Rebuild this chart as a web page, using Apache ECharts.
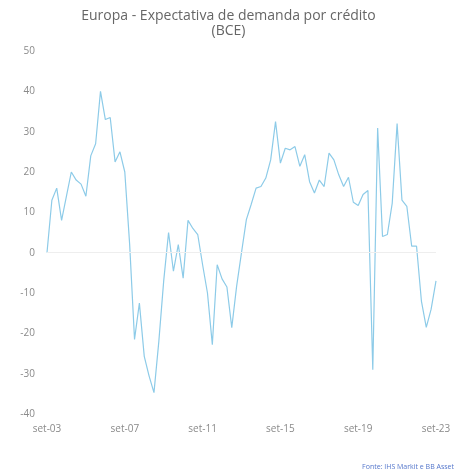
<!DOCTYPE html>
<html>
<head>
<meta charset="utf-8">
<script src="https://cdn.jsdelivr.net/npm/echarts@6/dist/echarts.min.js"></script>
<style>
html,body{margin:0;padding:0;background:#fff;}
#c{width:457px;height:474px;}
</style>
</head>
<body>
<div id="c"></div>
<script>
// Quarterly categories from set-03 to set-23
const monthNames = ["set", "dez", "mar", "jun"];
const startYear = 2003;
const nPoints = 81;
const categories = [];
for (let i = 0; i < nPoints; i++) {
  const m = monthNames[i % 4];
  const yy = (m === "set" || m === "dez") ? startYear + Math.floor(i / 4) : startYear + Math.floor((i + 2) / 4);
  categories.push(m + "-" + String(yy % 100).padStart(2, "0"));
}

const demandExpectation = [
  0, 13, 16, 8, 14, 20, 18, 17, 14, 24,
  27, 40, 33, 33.5, 22.5, 25, 20, 2, -21.5, -12.5,
  -25.7, -30.6, -34.7, -22, -7, 5, -4.6, 2, -6.3, 8,
  6, 4.5, -3, -10, -22.8, -3, -6.5, -8.5, -18.6, -8.3,
  0, 8.2, 12, 16, 16.4, 18.5, 23, 32.5, 22.2, 25.9,
  25.5, 26.3, 21.4, 24.3, 17.6, 14.8, 18, 16.4, 24.7, 23,
  19.3, 16.4, 18.7, 12.5, 11.7, 14.4, 15.4, -29, 30.9, 4,
  4.5, 12.3, 32, 13, 11.5, 1.6, 1.6, -12, -18.5, -14,
  -7
];

const yTicks = { min: -40, max: 50, interval: 10 };

const chart = echarts.init(document.getElementById("c"));
chart.setOption({
  backgroundColor: "#ffffff",
  animation: false,
  title: {
    text: "Europa - Expectativa de demanda por crédito\n(BCE)",
    left: "center",
    top: 4,
    textStyle: {
      fontFamily: "Open Sans",
      fontSize: 14,
      fontWeight: "normal",
      color: "#666666",
      lineHeight: 15
    }
  },
  graphic: [{
    type: "text",
    right: 3,
    bottom: 4,
    style: {
      text: "Fonte: IHS Markit e BB Asset",
      fontFamily: "Open Sans",
      fontSize: 7,
      fill: "#5577cc"
    }
  }],
  grid: { left: 47, right: 21, top: 51, bottom: 60 },
  xAxis: {
    type: "category",
    data: categories,
    boundaryGap: false,
    axisLine: { show: false },
    axisTick: { show: false },
    axisLabel: {
      interval: 15,
      margin: 10,
      fontFamily: "Open Sans",
      fontSize: 10,
      color: "#8a8a8a"
    }
  },
  yAxis: {
    type: "value",
    min: yTicks.min,
    max: yTicks.max,
    interval: yTicks.interval,
    axisLine: { show: false },
    axisTick: { show: false },
    splitLine: { show: false },
    axisLabel: {
      margin: 12,
      fontFamily: "Open Sans",
      fontSize: 10,
      color: "#8a8a8a"
    }
  },
  series: [{
    type: "line",
    data: demandExpectation,
    symbol: "none",
    lineStyle: { color: "#8dcbe8", width: 1.2 },
    markLine: {
      silent: true,
      symbol: "none",
      label: { show: false },
      lineStyle: { color: "#eeeeee", type: "solid", width: 1 },
      data: [{ yAxis: 0 }]
    }
  }]
});
</script>
</body>
</html>
